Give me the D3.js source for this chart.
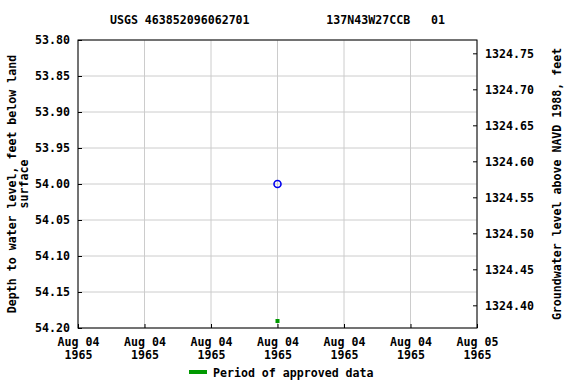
<!DOCTYPE html>
<html>
<head>
<meta charset="utf-8">
<script src="https://cdn.jsdelivr.net/npm/d3@7"></script>
<style>
  body { margin: 0; background: #fff; }
  text { font-family: "DejaVu Sans Mono", monospace; font-weight: bold; font-size: 11.6px; fill: #000; }
</style>
</head>
<body>
<svg id="drawing_region"></svg>
<script>
// site info
const title = "USGS 463852096062701           137N43W27CCB   01";
const landSurface = 1378.5685;

// measurements
const obsDates = ["1965-08-04T12:00"];
const obsDepths = [54.00];

// approved period markers
const approvedDates = ["1965-08-04T12:00"];

// axes
const depthTicks = [53.80, 53.85, 53.90, 53.95, 54.00, 54.05, 54.10, 54.15, 54.20];
const elevTicks = [1324.40, 1324.45, 1324.50, 1324.55, 1324.60, 1324.65, 1324.70, 1324.75];
const timeStart = "1965-08-04T00:00";
const timeEnd = "1965-08-05T00:00";

const config = {
    width: 576,
    height: 384,
    margin: {top: 40, right: 99, bottom: 56, left: 78},
};

const parse = d3.timeParse("%Y-%m-%dT%H:%M");

const svg = d3.select('#drawing_region')
    .attr('width', config.width)
    .attr('height', config.height);

const inner_width = config.width - config.margin.left - config.margin.right;
const inner_height = config.height - config.margin.top - config.margin.bottom;

const chart = svg.append('g')
    .attr('transform', `translate(${config.margin.left}, ${config.margin.top})`);

const xscale = d3.scaleTime()
    .domain([parse(timeStart), parse(timeEnd)])
    .range([0, inner_width]);

const yscale = d3.scaleLinear()
    .domain([depthTicks[0], depthTicks[depthTicks.length - 1]])
    .range([0, inner_height]);

const y2scale = d3.scaleLinear()
    .domain([landSurface - depthTicks[0], landSurface - depthTicks[depthTicks.length - 1]])
    .range([0, inner_height]);

const xticks = xscale.ticks(d3.timeHour.every(4));

// grid
chart.append('g').selectAll('line')
    .data(xticks)
    .join('line')
    .attr('x1', d => xscale(d)).attr('x2', d => xscale(d))
    .attr('y1', 0).attr('y2', inner_height)
    .attr('stroke', '#cccccc');

chart.append('g').selectAll('line')
    .data(depthTicks)
    .join('line')
    .attr('x1', 0).attr('x2', inner_width)
    .attr('y1', d => yscale(d)).attr('y2', d => yscale(d))
    .attr('stroke', '#cccccc');

// axes
const yaxis = chart.append('g')
    .call(d3.axisLeft(yscale).tickValues(depthTicks).tickFormat(d3.format('.2f')).tickSizeInner(-4).tickSizeOuter(0).tickPadding(8));

const y2axis = chart.append('g')
    .attr('transform', `translate(${inner_width}, 0)`)
    .call(d3.axisRight(y2scale).tickValues(elevTicks).tickFormat(d3.format('.2f')).tickSizeInner(-4).tickSizeOuter(0).tickPadding(8));

const xaxis = chart.append('g')
    .attr('transform', `translate(0, ${inner_height})`)
    .call(d3.axisBottom(xscale).tickValues(xticks).tickFormat('').tickSizeInner(-4).tickSizeOuter(0));

xaxis.selectAll('.tick').append('text')
    .attr('text-anchor', 'middle')
    .attr('y', 18)
    .text(d => d3.timeFormat('%b %d')(d));
xaxis.selectAll('.tick').append('text')
    .attr('text-anchor', 'middle')
    .attr('y', 31)
    .text(d => d3.timeFormat('%Y')(d));

[yaxis, y2axis, xaxis].forEach(a => {
    a.selectAll('.domain').remove();
    a.selectAll('line').attr('stroke', '#000');
    a.selectAll('text').attr('font-family', null).attr('font-size', null).style('fill', '#000');
});

// frame
chart.append('rect')
    .attr('width', inner_width).attr('height', inner_height)
    .attr('fill', 'none').attr('stroke', '#000');

// data
chart.selectAll('.obs')
    .data(obsDates.map((d, i) => ({date: parse(d), depth: obsDepths[i]})))
    .join('circle')
    .attr('class', 'obs')
    .attr('cx', d => xscale(d.date))
    .attr('cy', d => yscale(d.depth))
    .attr('r', 3.5)
    .attr('fill', 'none')
    .attr('stroke', '#0000ee')
    .attr('stroke-width', 1.6);

chart.selectAll('.approved')
    .data(approvedDates.map(parse))
    .join('rect')
    .attr('class', 'approved')
    .attr('x', d => xscale(d) - 2)
    .attr('y', inner_height - 9)
    .attr('width', 4).attr('height', 4)
    .attr('fill', '#009900');

// title
svg.append('text')
    .attr('x', config.margin.left + inner_width / 2)
    .attr('y', 24)
    .attr('text-anchor', 'middle')
    .style('white-space', 'pre')
    .attr('xml:space', 'preserve')
    .text(title);

// axis labels
const ly = config.margin.top + inner_height / 2;
svg.append('text')
    .attr('transform', `translate(16, ${ly}) rotate(-90)`)
    .attr('text-anchor', 'middle')
    .text('Depth to water level, feet below land');
svg.append('text')
    .attr('transform', `translate(28, ${ly}) rotate(-90)`)
    .attr('text-anchor', 'middle')
    .text('surface');
svg.append('text')
    .attr('transform', `translate(561, ${ly}) rotate(-90)`)
    .attr('text-anchor', 'middle')
    .text('Groundwater level above NAVD 1988, feet');

// legend
svg.append('line')
    .attr('x1', 189).attr('x2', 207)
    .attr('y1', 372).attr('y2', 372)
    .attr('stroke', '#009900').attr('stroke-width', 4);
svg.append('text')
    .attr('x', 213).attr('y', 377)
    .text('Period of approved data');
</script>
</body>
</html>
